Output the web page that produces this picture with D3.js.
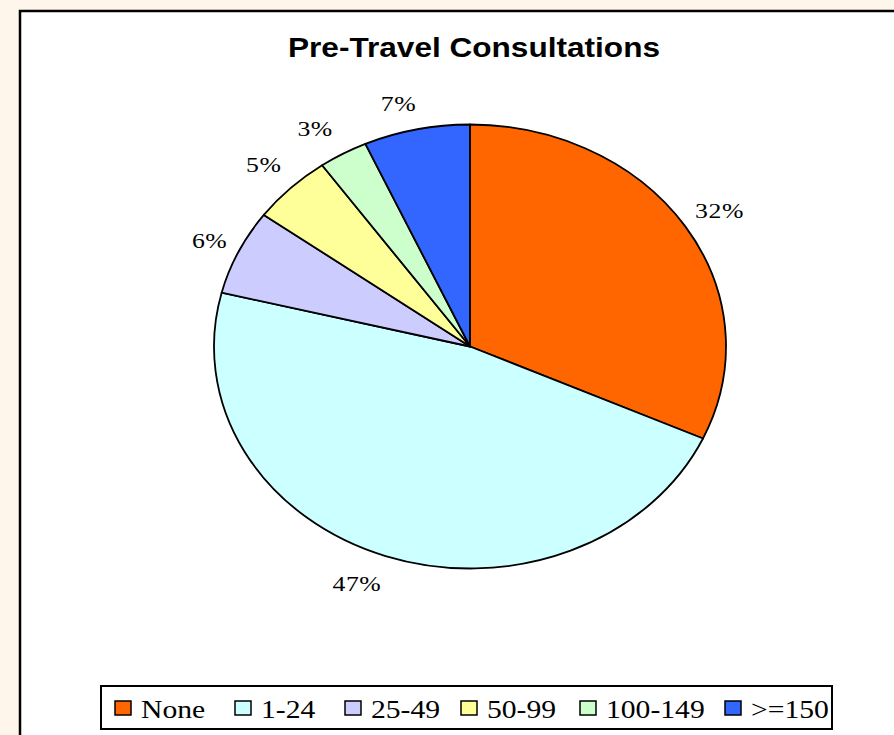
<!DOCTYPE html>
<html>
<head>
<meta charset="utf-8">
<script src="https://cdn.jsdelivr.net/npm/d3@7"></script>
<style>
  html, body { margin: 0; padding: 0; background: #FEF6EA; }
  svg { display: block; }
</style>
</head>
<body>
<script>
// ---- data ----
const categories = ["None", "1-24", "25-49", "50-99", "100-149", ">=150"];
const values = [31.8, 47.1, 6.2, 5.1, 3.1, 6.7];
const labels = ["32%", "47%", "6%", "5%", "3%", "7%"];
const colors = ["#FF6600", "#CCFFFF", "#CCCCFF", "#FFFF99", "#CCFFCC", "#3366FF"];
const title = "Pre-Travel Consultations";

const W = 894, H = 735;
const SX = 1.17; // horizontal stretch of the original text
const SXL = 1.14;
const svg = d3.select("body").append("svg").attr("width", W).attr("height", H);

// page background + chart area
svg.append("rect").attr("x", 0).attr("y", 0).attr("width", W).attr("height", H).attr("fill", "#FEF6EA");
svg.append("rect").attr("x", 20).attr("y", 11).attr("width", W + 10).attr("height", H + 10)
  .attr("fill", "#fff").attr("stroke", "#000").attr("stroke-width", 2.5);

// title
svg.append("text").attr("transform", `translate(474,57) scale(${SX},1)`).attr("text-anchor", "middle")
  .attr("font-family", "Liberation Sans, Arial, sans-serif").attr("font-weight", "bold")
  .attr("font-size", 27).attr("fill", "#000").text(title);

// pie
const cx = 470, cy = 346.5, rx = 256, ry = 222;
const sy = ry / rx;
const pie = d3.pie().sort(null).value(d => d)(values);
const arc = d3.arc().innerRadius(0).outerRadius(rx);
const labelArc = d3.arc().innerRadius(rx * 1.15).outerRadius(rx * 1.15);

const g = svg.append("g").attr("transform", `translate(${cx},${cy})`);
g.append("g").attr("transform", `scale(1,${sy})`)
  .selectAll("path").data(pie).join("path")
  .attr("d", arc)
  .attr("fill", (d, i) => colors[i])
  .attr("stroke", "#000").attr("stroke-width", 1.8)
  .attr("stroke-linejoin", "round")
  .attr("vector-effect", "non-scaling-stroke");

// labels
const labelNudge = [[2, 2], [-16, -4], [6, 2], [0, 0], [-9, 4], [-10, 6]];
g.selectAll("text.lbl").data(pie).join("text").attr("class", "lbl")
  .attr("transform", (d, i) => {
    const c = labelArc.centroid(d);
    return `translate(${c[0] + labelNudge[i][0]},${c[1] * sy + labelNudge[i][1]}) scale(${SX},1)`;
  })
  .attr("dy", "0.35em")
  .attr("text-anchor", "middle")
  .attr("font-family", "Liberation Serif, Times New Roman, serif")
  .attr("font-size", 22).attr("letter-spacing", 0.5).attr("fill", "#000")
  .text((d, i) => labels[i]);

// legend
const lg = svg.append("g");
lg.append("rect").attr("x", 101).attr("y", 686).attr("width", 731).attr("height", 43)
  .attr("fill", "#fff").attr("stroke", "#000").attr("stroke-width", 2);
const itemX = [114, 234, 344, 460, 579, 724];
const item = lg.selectAll("g.item").data(categories).join("g").attr("class", "item")
  .attr("transform", (d, i) => `translate(${itemX[i]},0)`);
item.append("rect").attr("x", 1).attr("y", 701).attr("width", 16).attr("height", 14)
  .attr("fill", (d, i) => colors[i]).attr("stroke", "#000").attr("stroke-width", 1.5);
item.append("text").attr("transform", `translate(27,718) scale(${SXL},1)`)
  .attr("font-family", "Liberation Serif, Times New Roman, serif")
  .attr("font-size", 26).attr("fill", "#000").text(d => d);
</script>
</body>
</html>
